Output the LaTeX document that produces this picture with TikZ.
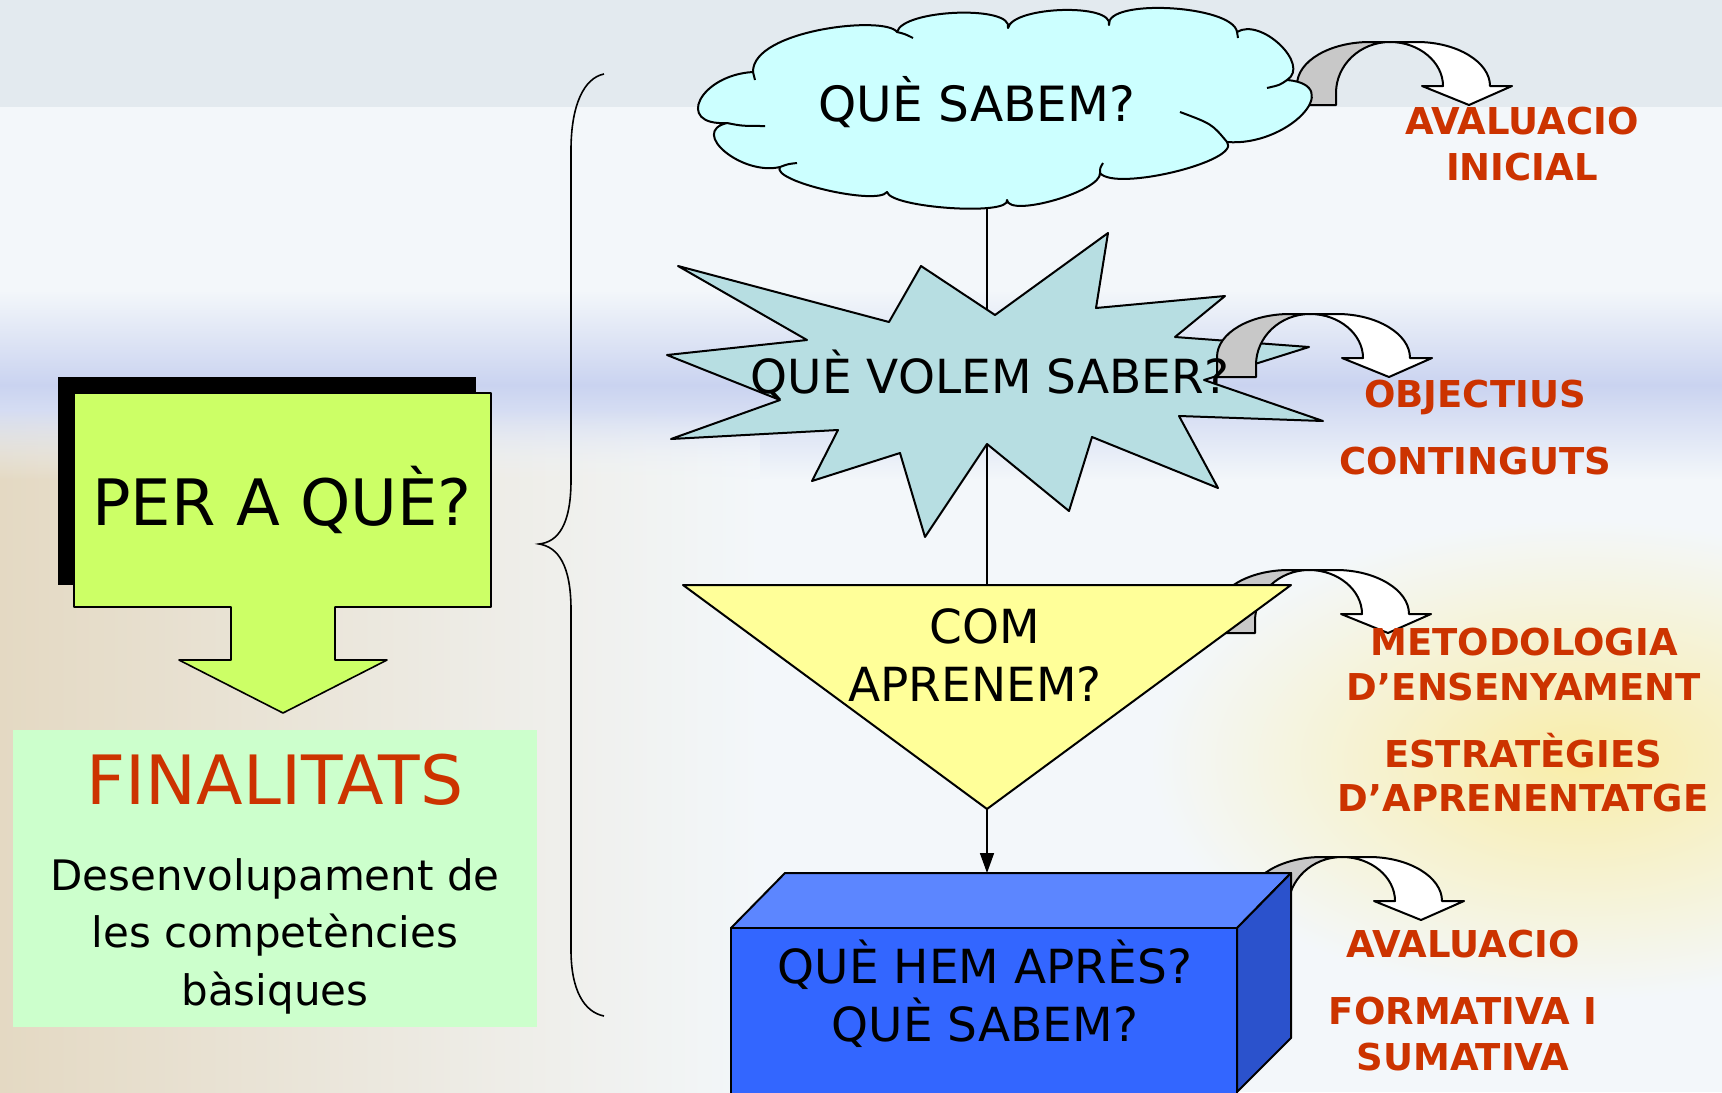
\documentclass[tikz,border=0pt]{standalone}
\usepackage{fontspec}
\setmainfont{DejaVu Sans}
\usetikzlibrary{arrows.meta,fadings}

\definecolor{bgwhite}{HTML}{F3F7FA}
\definecolor{bgtop}{HTML}{E3EAEF}
\definecolor{bandblue}{HTML}{CAD3F0}
\definecolor{bgbeige}{HTML}{E4D9C3}
\definecolor{glowyellow}{HTML}{F9EDA8}
\definecolor{cloudcyan}{HTML}{CCFFFF}
\definecolor{startea}{HTML}{B7DEE2}
\definecolor{triyellow}{HTML}{FFFF99}
\definecolor{boxfront}{HTML}{3366FF}
\definecolor{boxtop}{HTML}{5C86FF}
\definecolor{boxside}{HTML}{2B52CC}
\definecolor{limegreen}{HTML}{CCFF66}
\definecolor{paleg}{HTML}{CCFFCC}
\definecolor{labelred}{HTML}{CC3300}
\definecolor{arrowgray}{HTML}{C8C8C8}

\tikzfading[name=fadedown, top color=transparent!100, bottom color=transparent!0]

\tikzset{
  outline/.style={draw=black, line width=1pt, line join=round},
  comic/.style={font=\fontsize{23.5}{28}\selectfont, text height=17.1pt, text depth=0pt, inner sep=0pt},
  bigcomic/.style={font=\fontsize{32}{36}\selectfont, text height=23.3pt, text depth=0pt, inner sep=0pt},
  desc/.style={font=\fontsize{21}{25}\selectfont, text height=15.3pt, text depth=0pt, inner sep=0pt},
  redlabel/.style={font=\fontsize{18.5}{22}\selectfont\bfseries, text=labelred, text height=13.5pt, text depth=0pt, inner sep=0pt},
  bendarrow/.pic={
    \draw[outline, fill=arrowgray] (0,0) -- (0,-20) .. controls (0,-44) and (33,-63) .. (73,-63)
      -- (93,-63) .. controls (63,-63) and (39,-40) .. (39,-12) -- (39,0) -- cycle;
    \draw[outline, fill=white] (93,-63) -- (120,-63) .. controls (160,-63) and (193,-43) .. (193,-19)
      -- (215,-19) -- (172,0) -- (125,-19) -- (146,-19) .. controls (146,-43) and (122,-63) .. (93,-63) -- cycle;
  }
}

\begin{document}
\begin{tikzpicture}[x=0.5pt,y=-0.5pt]
  \useasboundingbox (0,0) rectangle (1722,1092);
  \clip (0,0) rectangle (1722,1092);

  % background
  \fill[bgwhite] (0,0) rectangle (1722,1092);
  \fill[bgtop] (0,0) rectangle (1722,107);
  \shade[top color=bgwhite, bottom color=bandblue] (0,290) rectangle (1722,385);
  \shade[top color=bandblue, bottom color=bgwhite] (0,385) rectangle (1722,480);
  \shade[left color=bgbeige, right color=bgwhite, path fading=fadedown] (0,410) rectangle (760,480);
  \shade[left color=bgbeige, right color=bgwhite] (0,480) rectangle (760,1092);
  \shade[inner color=glowyellow, outer color=bgwhite] (1580,760) ellipse (430 and 240);

  \coordinate (cloudc) at (1002,110);
  \coordinate (tritop) at (987,585);
  \coordinate (triapex) at (987,809);
  \coordinate (boxtopmid) at (987,873);

  % left side
  \fill[black] (58,377) rectangle (476,585);
  \draw[outline, line width=0.8pt, fill=limegreen] (74,393) -- (491,393) -- (491,607) -- (335,607) -- (335,660)
    -- (387,660) -- (283,713) -- (179,660) -- (231,660) -- (231,607) -- (74,607) -- cycle;
  \node[bigcomic] (peraque) at (282,502) {PER A QUÈ?};

  \fill[paleg] (13,730) rectangle (537,1027);
  \node[bigcomic, font=\fontsize{34}{38}\selectfont, text height=24.8pt, text=labelred] (finalitats) at (275,780) {FINALITATS};
  \node[desc] (desc1) at (275,875) {Desenvolupament de};
  \node[desc] (desc2) at (275,932) {les competències};
  \node[desc] (desc3) at (275,990) {bàsiques};

  % brace
  \draw[line width=0.8pt] (604,74) .. controls (584,78) and (571,105) .. (571,150) -- (571,480)
    .. controls (571,525) and (558,542) .. (539,544) .. controls (558,547) and (571,565) .. (571,610)
    -- (571,950) .. controls (571,990) and (584,1012) .. (604,1016);

  % cloud
  \draw[line width=0.8pt] (cloudc -| tritop) -- (tritop);
  \pic at (1297,105) {bendarrow};
  \draw[outline, fill=cloudcyan] (753,72) .. controls (752,30) and (885,15) .. (897,32)
    .. controls (903,9) and (1014,5) .. (1008,28)
    .. controls (1013,6) and (1114,3) .. (1109,25)
    .. controls (1105,-2) and (1233,5) .. (1237,32)
    .. controls (1261,17) and (1311,65) .. (1287,80)
    .. controls (1347,85) and (1287,147) .. (1227,142)
    .. controls (1242,161) and (1115,192) .. (1100,173)
    .. controls (1102,191) and (1009,218) .. (1007,200)
    .. controls (1011,216) and (891,208) .. (887,192)
    .. controls (877,206) and (770,181) .. (780,167)
    .. controls (742,176) and (689,132) .. (727,123)
    .. controls (674,126) and (700,75) .. (753,72) -- cycle;
  \draw[outline] (753,72) -- (755,80);
  \draw[outline] (897,32) .. controls (905,34) .. (913,38);
  \draw[outline] (1237,32) -- (1238,38);
  \draw[outline] (1287,80) .. controls (1280,85) .. (1267,88);
  \draw[outline] (1227,142) .. controls (1212,124) .. (1180,112);
  \draw[outline] (1100,173) .. controls (1100,168) .. (1103,163);
  \draw[outline] (780,167) .. controls (788,164) .. (797,163);
  \draw[outline] (727,123) .. controls (742,126) .. (765,126);
  \node[comic, font=\fontsize{24.3}{28}\selectfont] (cloudtext) at (977,104) {QUÈ SABEM?};

  % star
  \draw[outline, fill=startea] (678,266) -- (889,322) -- (921,266) -- (995,315) -- (1108,233) -- (1096,308)
    -- (1225,296) -- (1175,337) -- (1309,347) -- (1204,380) -- (1323,421) -- (1179,416) -- (1218,488)
    -- (1092,437) -- (1069,511) -- (987,444) -- (925,537) -- (900,453) -- (812,481) -- (838,430)
    -- (671,439) -- (780,400) -- (667,355) -- (807,340) -- cycle;
  \pic at (1217,377) {bendarrow};
  \node[comic] (volemtext) at (990,376) {QUÈ VOLEM SABER?};

  % triangle
  \pic at (1216,633) {bendarrow};
  \draw[outline, fill=triyellow] (683,585) -- (1291,585) -- (triapex) -- cycle;
  \node[comic] (comtext) at (985,626) {COM};
  \node[comic] (aprenemtext) at (975,684) {APRENEM?};

  \draw[line width=0.8pt, -{Triangle[length=10pt,width=7pt]}] (triapex) -- (boxtopmid);

  % box
  \pic at (1249,920) {bendarrow};
  \draw[outline, fill=boxtop] (731,928) -- (785,873) -- (1291,873) -- (1237,928) -- cycle;
  \draw[outline, fill=boxside] (1237,928) -- (1291,873) -- (1291,1038) -- (1237,1092) -- cycle;
  \draw[outline, fill=boxfront] (731,928) rectangle (1237,1100);
  \node[comic] (hemtext) at (985,966) {QUÈ HEM APRÈS?};
  \node[comic] (sabemtext) at (985,1024) {QUÈ SABEM?};

  % labels
  \node[redlabel] (inicial1) at (1522,121) {AVALUACIO};
  \node[redlabel] (inicial2) at (1522,167) {INICIAL};
  \node[redlabel] (objectius) at (1475,394) {OBJECTIUS};
  \node[redlabel] (continguts) at (1475,461) {CONTINGUTS};
  \node[redlabel] (metodologia) at (1524,642) {METODOLOGIA};
  \node[redlabel] (ensenyament) at (1524,687) {D’ENSENYAMENT};
  \node[redlabel] (estrategies) at (1523,754) {ESTRATÈGIES};
  \node[redlabel] (aprenentatge) at (1523,798) {D’APRENENTATGE};
  \node[redlabel] (avaluacio) at (1463,944) {AVALUACIO};
  \node[redlabel] (formativa) at (1463,1011) {FORMATIVA I};
  \node[redlabel] (sumativa) at (1463,1057) {SUMATIVA};
\end{tikzpicture}
\end{document}
